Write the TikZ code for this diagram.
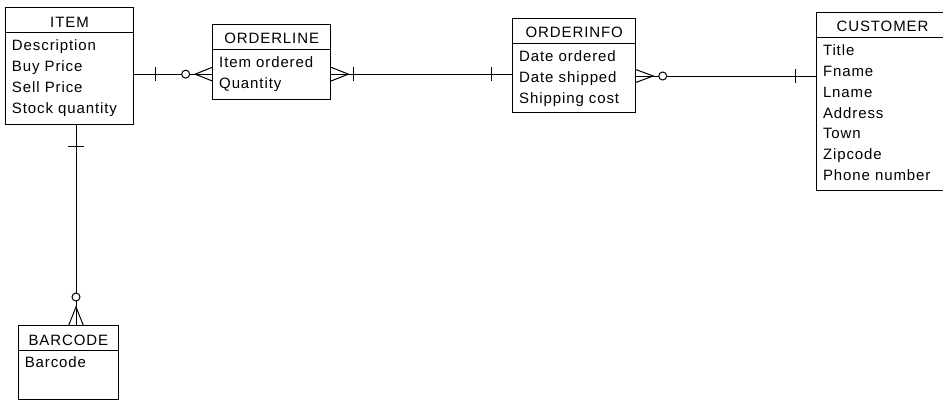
\documentclass[tikz,border=0pt]{standalone}
\usepackage{fontspec}
\setmainfont{Liberation Sans}[LetterSpace=6]
\usetikzlibrary{positioning, calc}

\begin{document}
\begin{tikzpicture}[x=1pt, y=-1pt, line width=1pt,
      font=\fontsize{15pt}{20.8pt}\selectfont,
      head/.style={draw, anchor=north west, minimum height=25pt, inner sep=0pt, outer sep=0pt, text height=14pt, text depth=0pt},
      body/.style={draw, inner sep=0pt, outer sep=0pt},
      attr/.style={align=left, inner sep=0pt},
      zero/.style={draw, fill=white}]
  \useasboundingbox (0,0) rectangle (943,400);
  \clip (0,0) rectangle (943,400);
  % entities
  \node[head, minimum width=128pt] (item-h) at (5.5,7.5) {ITEM};
  \node[body, minimum width=128pt, minimum height=91.5pt, below=0pt of item-h] (item-b) {};
  \node[attr, below right=7pt and 6pt of item-b.north west] (item-a) {Description\\Buy Price\\Sell Price\\Stock quantity};
  \node[head, minimum width=118pt] (ol-h) at (212.7,24.3) {ORDERLINE};
  \node[body, minimum width=118pt, minimum height=49.7pt, below=0pt of ol-h] (ol-b) {};
  \node[attr, below right=7pt and 6pt of ol-b.north west] (ol-a) {Item ordered\\Quantity};
  \node[head, minimum width=123pt] (oi-h) at (512.7,18.3) {ORDERINFO};
  \node[body, minimum width=123pt, minimum height=69.4pt, below=0pt of oi-h] (oi-b) {};
  \node[attr, below right=7pt and 6pt of oi-b.north west] (oi-a) {Date ordered\\Date shipped\\Shipping cost};
  \node[head, minimum width=132pt] (cu-h) at (816.5,12.3) {CUSTOMER};
  \node[body, minimum width=132pt, minimum height=152.7pt, below=0pt of cu-h] (cu-b) {};
  \node[attr, below right=7pt and 6pt of cu-b.north west] (cu-a) {Title\\Fname\\Lname\\Address\\Town\\Zipcode\\Phone number};
  \node[head, minimum width=100pt] (bc-h) at (18.3,325.7) {BARCODE};
  \node[body, minimum width=100pt, minimum height=48.6pt, below=0pt of bc-h] (bc-b) {};
  \node[attr, below right=5.5pt and 6pt of bc-b.north west] (bc-a) {Barcode};
  % ITEM -- ORDERLINE
  \draw (item-b.east |- ol-b.west) -- (ol-b.west);
  \draw ($(ol-b.west)+(-57.7,-7)$) -- ++(0,14);
  \draw ($(ol-b.west)+(0,-7)$) -- ($(ol-b.west)+(-17.5,0)$) -- ($(ol-b.west)+(0,7)$);
  \draw[zero] ($(ol-b.west)+(-27,0)$) circle (4pt);
  % ORDERLINE -- ORDERINFO
  \draw (ol-b.east) -- (ol-b.east -| oi-b.west);
  \draw ($(ol-b.east)+(0,-7)$) -- ($(ol-b.east)+(17.7,0)$) -- ($(ol-b.east)+(0,7)$);
  \draw ($(ol-b.east)+(22.5,-7)$) -- ++(0,14);
  \draw ($(ol-b.east -| oi-b.west)+(-21,-7)$) -- ++(0,14);
  % ORDERINFO -- CUSTOMER
  \coordinate (oi-c) at ([yshift=2pt]oi-b.east);
  \draw (oi-c) -- (oi-c -| cu-b.west);
  \draw ($(oi-c)+(0,-6.5)$) -- ($(oi-c)+(17.5,0)$) -- ($(oi-c)+(0,6.5)$);
  \draw[zero] ($(oi-c)+(27,0)$) circle (4pt);
  \draw ($(oi-c -| cu-b.west)+(-21.5,-7)$) -- ++(0,14);
  % ITEM -- BARCODE
  \coordinate (it-c) at ([xshift=6.5pt]item-b.south);
  \draw (it-c) -- (it-c |- bc-h.north);
  \draw ($(it-c)+(-8,22)$) -- ++(16,0);
  \draw ($(it-c |- bc-h.north)+(-7.5,0)$) -- ($(it-c |- bc-h.north)+(0,-18.7)$) -- ($(it-c |- bc-h.north)+(7.5,0)$);
  \draw[zero] ($(it-c |- bc-h.north)+(0,-28.7)$) circle (4pt);
\end{tikzpicture}
\end{document}
